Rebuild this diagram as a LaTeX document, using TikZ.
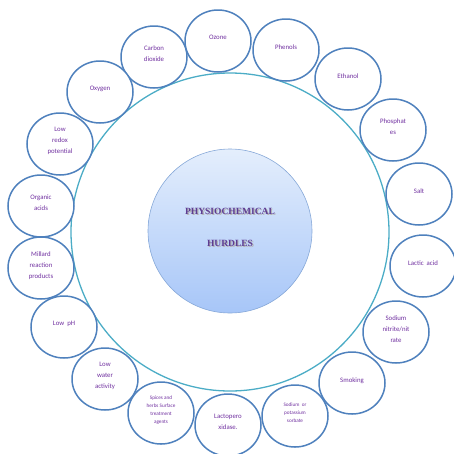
\documentclass[tikz,border=0pt]{standalone}
\usepackage{fontspec}
\setmainfont{Carlito}
\newfontfamily\titlefont{Liberation Serif}
\usepackage{xcolor}
\usetikzlibrary{shapes,positioning}

\definecolor{ringteal}{HTML}{4BACC6}
\definecolor{hurdleblue}{HTML}{4F81BD}
\definecolor{labelpurple}{HTML}{7030A0}
\definecolor{titlepurple}{HTML}{5E3D92}
\definecolor{discedge}{HTML}{86A8D8}
\definecolor{disctop}{HTML}{E4EEFC}
\definecolor{discbottom}{HTML}{A7C6F8}

\tikzset{
    hurdle/.style={ellipse, draw=hurdleblue, line width=1.5pt, fill=white,
        minimum width=66pt, minimum height=62pt, inner sep=0pt, align=center,
        text depth=6.5pt, text=labelpurple, font=\fontsize{6.8}{11}\selectfont},
    smalltext/.style={font=\fontsize{5.2}{7.8}\selectfont},
    titletext/.style={font=\titlefont\bfseries\fontsize{9.5}{11}\selectfont}
}

\begin{document}
\begin{tikzpicture}[x=1pt,y=-1pt]
    \useasboundingbox (0,0) rectangle (454,453);

    % outer ring and centre disc
    \draw[ringteal, line width=1.3pt] (230,232) circle [radius=159pt];
    \node[circle, minimum size=164pt, draw=discedge, line width=0.6pt,
        top color=disctop, bottom color=discbottom] (core) at (230,231) {};

    \node[titletext, text=black!30] (shadow1) at (231.2,212.2) {PHYSIOCHEMICAL};
    \node[titletext, text=titlepurple] (title1) at (230,211) {PHYSIOCHEMICAL};
    \node[titletext, text=black!30] (shadow2) at (231.2,244.2) {HURDLES};
    \node[titletext, text=titlepurple] (title2) at (230,243) {HURDLES};

    % hurdles round the ring
    \node[hurdle] (co2) at (154,57) {Carbon\\dioxide};
    \node[hurdle] (ozone) at (218,41) {Ozone};
    \node[hurdle] (phenols) at (286,50) {Phenols};
    \node[hurdle] (ethanol) at (348,79) {Ethanol};
    \node[hurdle] (phosphates) at (393,130) {Phosphat\\es};
    \node[hurdle] (salt) at (419,194) {Salt};
    \node[hurdle] (lactic) at (423,266) {Lactic\ \ acid};
    \node[hurdle] (nitrite) at (396,332) {Sodium\\nitrite/nit\\rate};
    \node[hurdle] (smoking) at (352,383) {Smoking};
    \node[hurdle, smalltext] (sorbate) at (295,416) {Sodium\ \ or\\potassium\\sorbate};
    \node[hurdle] (lacto) at (228,425) {Lactopero\\xidase.};
    \node[hurdle, smalltext] (spices) at (161,413) {Spices and\\herbs Surface\\treatment\\agents};
    \node[hurdle] (water) at (105,379) {Low\\water\\activity};
    \node[hurdle] (lowph) at (64,327) {Low\ \ pH};
    \node[hurdle] (millard) at (41,268) {Millard\\reaction\\products};
    \node[hurdle] (organic) at (41,206) {Organic\\acids};
    \node[hurdle] (redox) at (60,144) {Low\\redox\\potential};
    \node[hurdle] (oxygen) at (100,92) {Oxygen};
\end{tikzpicture}
\end{document}
